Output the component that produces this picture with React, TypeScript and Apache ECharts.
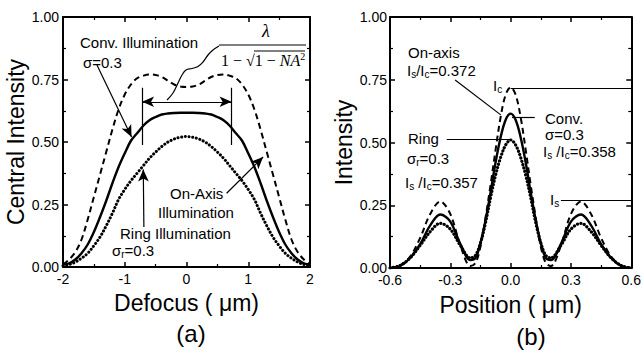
import React, { useEffect, useRef } from 'react';
import * as echarts from 'echarts';

// ---------- Panel (a): Central intensity vs defocus ----------
const defocusX = [-2, -1.9, -1.8, -1.7, -1.6, -1.5, -1.4, -1.3, -1.2, -1.1, -1.0, -0.9, -0.8, -0.7, -0.6, -0.5, -0.4, -0.3, -0.2, -0.1, 0,
  0.1, 0.2, 0.3, 0.4, 0.5, 0.6, 0.7, 0.8, 0.9, 1.0, 1.1, 1.2, 1.3, 1.4, 1.5, 1.6, 1.7, 1.8, 1.9, 2];
const onAxisA = [0.01, 0.03, 0.06, 0.11, 0.19, 0.28, 0.37, 0.46, 0.55, 0.63, 0.69, 0.73, 0.755, 0.765, 0.77, 0.768, 0.76, 0.745, 0.73, 0.722, 0.72,
  0.722, 0.73, 0.745, 0.76, 0.768, 0.77, 0.765, 0.755, 0.73, 0.69, 0.63, 0.55, 0.46, 0.37, 0.28, 0.19, 0.11, 0.06, 0.03, 0.01];
const convA = [0.01, 0.015, 0.03, 0.055, 0.09, 0.14, 0.2, 0.265, 0.335, 0.4, 0.455, 0.505, 0.535, 0.565, 0.587, 0.6, 0.61, 0.614, 0.616, 0.617, 0.617,
  0.617, 0.616, 0.614, 0.61, 0.6, 0.587, 0.565, 0.535, 0.505, 0.455, 0.4, 0.335, 0.265, 0.2, 0.14, 0.09, 0.055, 0.03, 0.015, 0.01];
const ringA = [0.005, 0.01, 0.02, 0.035, 0.055, 0.085, 0.12, 0.165, 0.215, 0.27, 0.31, 0.345, 0.375, 0.405, 0.435, 0.46, 0.482, 0.5, 0.512, 0.519, 0.522,
  0.519, 0.512, 0.5, 0.482, 0.46, 0.435, 0.405, 0.375, 0.345, 0.31, 0.27, 0.215, 0.165, 0.12, 0.085, 0.055, 0.035, 0.02, 0.01, 0.005];

// ---------- Panel (b): Intensity vs position ----------
const positionX = [-0.6, -0.55, -0.5, -0.45, -0.4, -0.35, -0.3, -0.25, -0.2, -0.175, -0.15, -0.125, -0.1, -0.075, -0.05, -0.025, 0,
  0.025, 0.05, 0.075, 0.1, 0.125, 0.15, 0.175, 0.2, 0.25, 0.3, 0.35, 0.4, 0.45, 0.5, 0.55, 0.6];
const convB = [0, 0.008, 0.04, 0.095, 0.17, 0.213, 0.185, 0.095, 0.032, 0.04, 0.1, 0.19, 0.3, 0.42, 0.52, 0.59, 0.615,
  0.59, 0.52, 0.42, 0.3, 0.19, 0.1, 0.04, 0.032, 0.095, 0.185, 0.213, 0.17, 0.095, 0.04, 0.008, 0];
const onAxisB = [0, 0.01, 0.045, 0.12, 0.215, 0.265, 0.215, 0.09, 0.008, 0.02, 0.085, 0.2, 0.33, 0.47, 0.6, 0.69, 0.72,
  0.69, 0.6, 0.47, 0.33, 0.2, 0.085, 0.02, 0.008, 0.09, 0.215, 0.265, 0.215, 0.12, 0.045, 0.01, 0];
const ringB = [0, 0.01, 0.04, 0.09, 0.145, 0.178, 0.155, 0.09, 0.04, 0.05, 0.1, 0.18, 0.28, 0.37, 0.44, 0.49, 0.51,
  0.49, 0.44, 0.37, 0.28, 0.18, 0.1, 0.05, 0.04, 0.09, 0.155, 0.178, 0.145, 0.09, 0.04, 0.01, 0];

// axis ranges
const xRangeA = { min: -2, max: 2, interval: 1 };
const xRangeB = { min: -0.6, max: 0.6, interval: 0.3 };
const yRange = { min: 0, max: 1, interval: 0.25 };

const SANS = 'Liberation Sans, Arial, Helvetica, sans-serif';
const SERIF = 'Liberation Serif, Times New Roman, serif';

const zip = (xs: number[], ys: number[]) => xs.map((x, i) => [x, ys[i]]);

const baseAxis = (extra: any) => ({
  type: 'value',
  axisLine: { show: true, onZero: false, lineStyle: { color: '#000', width: 2 } },
  axisTick: { show: true, inside: true, length: 5, lineStyle: { color: '#000', width: 1.5 } },
  minorTick: { show: true, splitNumber: 2, length: 3, lineStyle: { color: '#000', width: 1.2 } },
  splitLine: { show: false },
  minorSplitLine: { show: false },
  ...extra,
});

const labelStyle = { color: '#000', fontSize: 14, fontFamily: SANS };
const nameStyle = { color: '#000', fontSize: 23, fontFamily: SANS };

const fmt1 = (v: number) => (Math.abs(v) < 1e-9 ? '0.0' : v.toFixed(1));
const fmt2 = (v: number) => (Math.abs(v) < 1e-9 ? '0.00' : v.toFixed(2));

const ml = (data: any[]) => ({
  silent: true,
  symbol: ['none', 'arrow'],
  symbolSize: [8, 12],
  label: { show: false },
  emphasis: { disabled: true },
  lineStyle: { color: '#000', width: 1.2, type: 'solid' },
  data,
});
const noArrow = (a: number[], b: number[]) => [{ coord: a, symbol: 'none' }, { coord: b, symbol: 'none' }];
const oneArrow = (a: number[], b: number[]) => [{ coord: a, symbol: 'none' }, { coord: b, symbol: 'arrow' }];
const twoArrow = (a: number[], b: number[]) => [{ coord: a, symbol: 'arrow' }, { coord: b, symbol: 'arrow' }];

const txt = (x: number, y: number, text: string, size = 15, extra: any = {}) => ({
  type: 'text', x, y, z: 100, silent: true,
  style: { text, fontFamily: SANS, fontSize: size, fill: '#000', align: 'left', verticalAlign: 'middle', ...extra },
});
const richSans = {
  n: { fontFamily: SANS, fontSize: 15, lineHeight: 18, fill: '#000' },
  s: { fontFamily: SANS, fontSize: 10, lineHeight: 10, verticalAlign: 'bottom', fill: '#000' },
};
const rtxt = (x: number, y: number, text: string) => ({
  type: 'text', x, y, z: 100, silent: true,
  style: { text, fill: '#000', align: 'left', verticalAlign: 'middle', rich: richSans },
});

export default function App() {
  const ref = useRef<HTMLDivElement>(null);
  useEffect(() => {
    document.body.style.margin = '0';
    const chart = echarts.init(ref.current!, null, { renderer: 'svg' });
    const option: any = {
      animation: false,
      backgroundColor: '#fff',
      textStyle: { fontFamily: SANS },
      grid: [
        { left: 63, top: 17, width: 247, height: 250, containLabel: false },
        { left: 390, top: 17, width: 247, height: 251, containLabel: false },
      ],
      xAxis: [
        baseAxis({ gridIndex: 0, position: 'bottom', ...xRangeA,
          axisLabel: { ...labelStyle, margin: 5, formatter: (v: number) => String(Math.round(v)) },
          name: 'Defocus ( \u03bcm)', nameLocation: 'middle', nameGap: 24, nameTextStyle: nameStyle }),
        baseAxis({ gridIndex: 0, position: 'top', ...xRangeA, axisLabel: { show: false } }),
        baseAxis({ gridIndex: 1, position: 'bottom', ...xRangeB,
          axisLabel: { ...labelStyle, margin: 5, formatter: fmt1 },
          name: 'Position ( \u03bcm)', nameLocation: 'middle', nameGap: 25, nameTextStyle: nameStyle }),
        baseAxis({ gridIndex: 1, position: 'top', ...xRangeB, axisLabel: { show: false } }),
      ],
      yAxis: [
        baseAxis({ gridIndex: 0, position: 'left', ...yRange,
          axisLabel: { ...labelStyle, margin: 4, formatter: fmt2 },
          name: 'Central Intensity', nameLocation: 'middle', nameGap: 36, nameTextStyle: nameStyle }),
        baseAxis({ gridIndex: 0, position: 'right', ...yRange, axisLabel: { show: false } }),
        baseAxis({ gridIndex: 1, position: 'left', ...yRange,
          axisLabel: { ...labelStyle, margin: 3, formatter: fmt2 },
          name: 'Intensity', nameLocation: 'middle', nameGap: 35, nameTextStyle: nameStyle }),
        baseAxis({ gridIndex: 1, position: 'right', ...yRange, axisLabel: { show: false } }),
      ],
      series: [
        {
          name: 'On-Axis Illumination', type: 'line', xAxisIndex: 0, yAxisIndex: 0,
          data: zip(defocusX, onAxisA), showSymbol: false, symbol: 'none', smooth: 0.35,
          lineStyle: { color: '#000', width: 2, type: [6, 4] },
        },
        {
          name: 'Conv. Illumination', type: 'line', xAxisIndex: 0, yAxisIndex: 0,
          data: zip(defocusX, convA), showSymbol: false, symbol: 'none', smooth: 0.35,
          lineStyle: { color: '#000', width: 2.4 },
          markLine: ml([
            twoArrow([-0.72, 0.661], [0.73, 0.661]),
            noArrow([-0.72, 0.717], [-0.72, 0.488]),
            noArrow([0.73, 0.717], [0.73, 0.488]),
            oneArrow([-1.45, 0.808], [-0.89, 0.52]),
            oneArrow([-0.69, 0.16], [-0.7, 0.39]),
            oneArrow([0.65, 0.295], [1.24, 0.44]),
          ]),
        },
        {
          name: 'Ring Illumination', type: 'line', xAxisIndex: 0, yAxisIndex: 0,
          data: zip(defocusX, ringA), showSymbol: false, symbol: 'none', smooth: 0.35,
          lineStyle: { color: '#000', width: 3, type: [0.1, 3.6], cap: 'round' },
        },
        {
          name: 'On-axis', type: 'line', xAxisIndex: 2, yAxisIndex: 2,
          data: zip(positionX, onAxisB), showSymbol: false, symbol: 'none', smooth: 0.35,
          lineStyle: { color: '#000', width: 2, type: [6, 4] },
        },
        {
          name: 'Conv.', type: 'line', xAxisIndex: 2, yAxisIndex: 2,
          data: zip(positionX, convB), showSymbol: false, symbol: 'none', smooth: 0.35,
          lineStyle: { color: '#000', width: 2.4 },
          markLine: ml([
            noArrow([-0.276, 0.749], [-0.049, 0.61]),
            noArrow([0.0, 0.717], [0.6, 0.717]),
            noArrow([0.007, 0.6], [0.12, 0.6]),
            noArrow([-0.318, 0.514], [0.0, 0.514]),
            noArrow([0.25, 0.268], [0.6, 0.268]),
          ]),
        },
        {
          name: 'Ring', type: 'line', xAxisIndex: 2, yAxisIndex: 2,
          data: zip(positionX, ringB), showSymbol: false, symbol: 'none', smooth: 0.35,
          lineStyle: { color: '#000', width: 3.2, type: [0.1, 3.4], cap: 'round' },
        },
      ],
      graphic: [
        // panel (a) annotations
        txt(80, 42, 'Conv. Illumination'),
        txt(83, 62, '\u03c3=0.3'),
        txt(170, 193, 'On-Axis'),
        txt(158, 212, 'Illumination'),
        txt(120, 233, 'Ring Illumination'),
        rtxt(112, 250, '{n|\u03c3}{s|r}{n|=0.3}'),
        {
          type: 'text', x: 266, y: 31, z: 100, silent: true,
          style: { text: '\u03bb', fontFamily: SERIF, fontStyle: 'italic', fontSize: 18, fill: '#000', align: 'center', verticalAlign: 'middle' },
        },
        { type: 'line', z: 100, silent: true, shape: { x1: 219, y1: 45, x2: 306, y2: 45 }, style: { stroke: '#000', lineWidth: 1.2 } },
        {
          type: 'text', x: 221, y: 60, z: 100, silent: true,
          style: {
            text: '{n|1 \u2212 \u221a}{n|1 \u2212 }{i|NA}{p|2}', align: 'left', verticalAlign: 'middle', fill: '#000',
            rich: {
              n: { fontFamily: SERIF, fontSize: 16, lineHeight: 18, fill: '#000' },
              i: { fontFamily: SERIF, fontSize: 16, fontStyle: 'italic', lineHeight: 18, fill: '#000' },
              p: { fontFamily: SERIF, fontSize: 10, lineHeight: 10, verticalAlign: 'top', fill: '#000' },
            },
          },
        },
        { type: 'line', z: 100, silent: true, shape: { x1: 254, y1: 51, x2: 305, y2: 51 }, style: { stroke: '#000', lineWidth: 1 } },
        {
          type: 'polyline', z: 100, silent: true,
          shape: { points: [[167, 100], [173, 93], [178, 83], [182, 75], [186, 70], [192, 68.5], [198, 66.5], [203, 62], [208, 55], [213, 50], [219, 46]], smooth: 0.4 },
          style: { stroke: '#000', lineWidth: 1.2, fill: 'none' },
        },
        txt(191, 333, '(a)', 24, { align: 'center' }),
        // panel (b) annotations
        txt(408, 52, 'On-axis'),
        rtxt(407, 70, '{n|I}{s|s}{n|/I}{s|c}{n|=0.372}'),
        rtxt(493, 85, '{n|I}{s|c}'),
        txt(545, 118, 'Conv.'),
        txt(545, 134, '\u03c3=0.3'),
        rtxt(543, 151, '{n|I}{s|s}{n| /I}{s|c}{n|=0.358}'),
        txt(408, 138, 'Ring'),
        rtxt(407, 158, '{n|\u03c3}{s|r}{n|=0.3}'),
        rtxt(405, 182, '{n|I}{s|s}{n| /I}{s|c}{n|=0.357}'),
        rtxt(550, 199, '{n|I}{s|s}'),
        txt(531, 336, '(b)', 24, { align: 'center' }),
      ],
    };
    chart.setOption(option);
    return () => chart.dispose();
  }, []);
  return <div ref={ref} style={{ width: 644, height: 354, background: '#fff' }} />;
}
